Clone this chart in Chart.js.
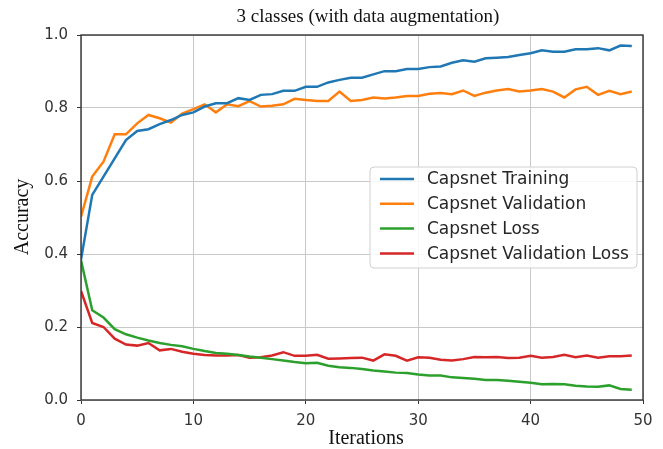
<!DOCTYPE html>
<html>
<head>
<meta charset="utf-8">
<script src="https://cdn.jsdelivr.net/npm/chart.js@4.4.1/dist/chart.umd.min.js"></script>
<style>
  html, body { margin: 0; padding: 0; background: #fff; }
  #wrap { width: 663px; height: 449px; }
</style>
</head>
<body>
<div id="wrap"><canvas id="myChart" width="663" height="449"></canvas></div>
<script>
// Iteraciones (eje x)
const iterations = [0, 1, 2, 3, 4, 5, 6, 7, 8, 9, 10, 11, 12, 13, 14, 15, 16, 17, 18, 19,
    20, 21, 22, 23, 24, 25, 26, 27, 28, 29, 30, 31, 32, 33, 34, 35, 36, 37, 38, 39,
    40, 41, 42, 43, 44, 45, 46, 47, 48, 49];

// Series
const capsTraining = [0.385, 0.562, 0.612, 0.662, 0.712, 0.737, 0.742, 0.756, 0.767, 0.781,
    0.788, 0.804, 0.813, 0.813, 0.827, 0.822, 0.836, 0.838, 0.847, 0.847,
    0.858, 0.858, 0.870, 0.877, 0.883, 0.883, 0.892, 0.901, 0.901, 0.907,
    0.907, 0.912, 0.914, 0.924, 0.931, 0.927, 0.936, 0.938, 0.940, 0.945,
    0.950, 0.958, 0.954, 0.954, 0.961, 0.961, 0.964, 0.958, 0.971, 0.970];

const capsValidation = [0.502, 0.612, 0.653, 0.728, 0.728, 0.758, 0.781, 0.772, 0.760, 0.785,
    0.797, 0.810, 0.788, 0.810, 0.805, 0.819, 0.804, 0.806, 0.810, 0.825,
    0.822, 0.819, 0.819, 0.845, 0.819, 0.822, 0.829, 0.826, 0.829, 0.833,
    0.833, 0.839, 0.841, 0.838, 0.848, 0.833, 0.842, 0.848, 0.852, 0.845,
    0.848, 0.852, 0.845, 0.829, 0.851, 0.858, 0.836, 0.847, 0.838, 0.845];

const capsLoss = [0.383, 0.246, 0.226, 0.194, 0.180, 0.171, 0.163, 0.156, 0.151, 0.147,
    0.140, 0.134, 0.129, 0.127, 0.123, 0.119, 0.116, 0.112, 0.108, 0.104,
    0.101, 0.102, 0.094, 0.090, 0.088, 0.085, 0.081, 0.078, 0.075, 0.074,
    0.070, 0.067, 0.067, 0.062, 0.060, 0.058, 0.055, 0.055, 0.053, 0.050,
    0.047, 0.043, 0.044, 0.043, 0.039, 0.037, 0.036, 0.040, 0.030, 0.028];

const capsValLoss = [0.299, 0.211, 0.200, 0.168, 0.152, 0.149, 0.156, 0.136, 0.140, 0.132,
    0.127, 0.123, 0.122, 0.122, 0.123, 0.116, 0.117, 0.122, 0.131, 0.121,
    0.121, 0.124, 0.113, 0.114, 0.115, 0.116, 0.108, 0.125, 0.121, 0.108,
    0.117, 0.116, 0.110, 0.108, 0.112, 0.118, 0.117, 0.118, 0.115, 0.116,
    0.121, 0.116, 0.118, 0.124, 0.117, 0.122, 0.116, 0.120, 0.120, 0.122];

const seriesNames = ['Capsnet Training', 'Capsnet Validation', 'Capsnet Loss', 'Capsnet Validation Loss'];
const seriesColors = ['#1f77b4', '#ff7f0e', '#2ca02c', '#d62728'];

const xTicks = [0, 10, 20, 30, 40, 50];
const yTicks = [0.0, 0.2, 0.4, 0.6, 0.8, 1.0];

const chartTitle = '3 classes (with data augmentation)';
const xTitle = 'Iterations';
const yTitle = 'Accuracy';

const allSeries = [capsTraining, capsValidation, capsLoss, capsValLoss];

// Plugin: título, marco, títulos de ejes y leyenda estilo matplotlib
const decoraciones = {
    id: 'decoraciones',
    afterDraw(chart) {
        const { ctx, chartArea } = chart;
        const { left, right, top, bottom } = chartArea;
        ctx.save();

        // marco completo
        ctx.strokeStyle = '#333';
        ctx.lineWidth = 1.4;
        ctx.strokeRect(left, top, right - left, bottom - top);

        // título
        ctx.fillStyle = '#111';
        ctx.font = '19px "Liberation Serif", "Times New Roman", serif';
        ctx.textAlign = 'center';
        ctx.textBaseline = 'middle';
        ctx.fillText(chartTitle, 368, 17);

        // título eje x
        ctx.font = '20px "Liberation Serif", "Times New Roman", serif';
        ctx.fillText(xTitle, 366, 439);

        // título eje y
        ctx.save();
        ctx.translate(23, 217);
        ctx.rotate(-Math.PI / 2);
        ctx.fillText(yTitle, 0, 0);
        ctx.restore();

        // leyenda
        const bx = 370, by = 167, bw = 267, bh = 101, r = 4;
        ctx.beginPath();
        ctx.moveTo(bx + r, by);
        ctx.arcTo(bx + bw, by, bx + bw, by + bh, r);
        ctx.arcTo(bx + bw, by + bh, bx, by + bh, r);
        ctx.arcTo(bx, by + bh, bx, by, r);
        ctx.arcTo(bx, by, bx + bw, by, r);
        ctx.closePath();
        ctx.fillStyle = 'rgba(255,255,255,0.85)';
        ctx.fill();
        ctx.strokeStyle = '#d0d0d0';
        ctx.lineWidth = 1;
        ctx.stroke();

        ctx.font = '17px "DejaVu Sans", sans-serif';
        ctx.textAlign = 'left';
        chart.data.datasets.forEach((ds, i) => {
            const y = 179 + i * 24.8;
            ctx.strokeStyle = ds.borderColor;
            ctx.lineWidth = 2.5;
            ctx.beginPath();
            ctx.moveTo(380, y);
            ctx.lineTo(414, y);
            ctx.stroke();
            ctx.fillStyle = '#262626';
            ctx.fillText(ds.label, 427, y + 1);
        });
        ctx.restore();
    }
};

function drawChart() {
    const ctx = document.getElementById('myChart').getContext('2d');
    new Chart(ctx, {
        type: 'line',
        data: {
            labels: iterations,
            datasets: allSeries.map((serie, i) => ({
                label: seriesNames[i],
                data: iterations.map((it, j) => ({ x: it, y: serie[j] })),
                borderColor: seriesColors[i],
                backgroundColor: seriesColors[i],
                borderWidth: 2.5,
                pointRadius: 0,
                tension: 0,
                fill: false
            }))
        },
        options: {
            responsive: false,
            animation: false,
            layout: { padding: { top: 35, right: 20, left: 0, bottom: 0 } },
            plugins: {
                legend: { display: false },
                tooltip: { enabled: false }
            },
            scales: {
                x: {
                    type: 'linear',
                    min: 0,
                    max: 50,
                    afterFit: (scale) => { scale.height = 49; },
                    afterBuildTicks: (scale) => { scale.ticks = xTicks.map(v => ({ value: v })); },
                    grid: { color: '#c8c8c8', lineWidth: 1, tickColor: '#333', tickLength: 4 },
                    border: { display: false },
                    ticks: {
                        color: '#333',
                        font: { family: '"DejaVu Sans", sans-serif', size: 15 },
                        padding: 8,
                        maxRotation: 0,
                        callback: (v) => String(v)
                    }
                },
                y: {
                    min: 0,
                    max: 1,
                    afterFit: (scale) => { scale.width = 81; },
                    afterBuildTicks: (scale) => { scale.ticks = yTicks.map(v => ({ value: v })); },
                    grid: { color: '#c8c8c8', lineWidth: 1, tickColor: '#333', tickLength: 4 },
                    border: { display: false },
                    ticks: {
                        color: '#333',
                        font: { family: '"DejaVu Sans", sans-serif', size: 15 },
                        padding: 9,
                        callback: (v) => Number(v).toFixed(1)
                    }
                }
            }
        },
        plugins: [decoraciones]
    });
}

window.onload = () => {
    drawChart();
};
</script>
</body>
</html>
